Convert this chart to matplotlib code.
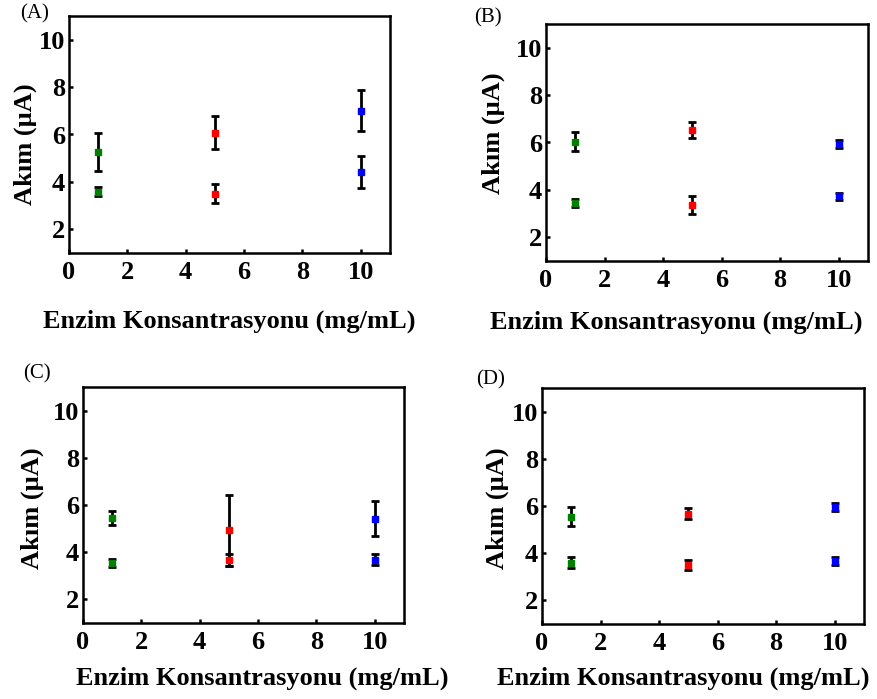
import matplotlib
matplotlib.use("Agg")
import matplotlib.pyplot as plt

plt.rcParams["font.family"] = ["Liberation Serif", "DejaVu Serif"]

W, H = 878, 699

conc = [1, 5, 10]
point_colors = ["#008000", "#ff0000", "#0000ff"]

A_high = [5.25, 6.08, 7.01]
A_high_err = [0.80, 0.70, 0.86]
A_low = [3.59, 3.51, 4.41]
A_low_err = [0.18, 0.42, 0.68]

B_high = [6.03, 6.52, 5.93]
B_high_err = [0.40, 0.34, 0.17]
B_low = [3.45, 3.36, 3.73]
B_low_err = [0.18, 0.37, 0.14]

C_high = [5.46, 4.93, 5.42]
C_high_err = [0.30, 1.50, 0.73]
C_low = [3.55, 3.66, 3.69]
C_low_err = [0.18, 0.25, 0.22]

D_high = [5.54, 5.68, 5.96]
D_high_err = [0.40, 0.25, 0.18]
D_low = [3.60, 3.50, 3.68]
D_low_err = [0.22, 0.22, 0.16]

x_ticks = [0, 2, 4, 6, 8, 10]
y_ticks = [2, 4, 6, 8, 10]
xlabel = "Enzim Konsantrasyonu (mg/mL)"
ylabel = "Akım (µA)"

# panel: label, data, axes box in px (left, top, right, bottom),
# panel-letter position px, ylabel coords, xlabel coords
PANELS = [
    ("(A)", (A_high, A_high_err, A_low, A_low_err), (69, 16, 390, 253),
     (35, 14), (-0.137, 0.46), (0.50, -0.29)),
    ("(B)", (B_high, B_high_err, B_low, B_low_err), (546, 24, 868, 261),
     (488, 18), (-0.165, 0.54), (0.404, -0.257)),
    ("(C)", (C_high, C_high_err, C_low, C_low_err), (83, 387, 404, 623),
     (37, 374), (-0.159, 0.487), (0.558, -0.233)),
    ("(D)", (D_high, D_high_err, D_low, D_low_err), (542, 388, 864, 624),
     (491, 380), (-0.14, 0.49), (0.438, -0.229)),
]

fig = plt.figure(figsize=(W / 100, H / 100), dpi=100)

for letter, (hi, hi_err, lo, lo_err), box, lpos, ycoords, xcoords in PANELS:
    l, t, r, b = box
    ax = fig.add_axes([l / W, 1 - b / H, (r - l) / W, (b - t) / H])

    for vals, errs in ((hi, hi_err), (lo, lo_err)):
        for xv, yv, ev, c in zip(conc, vals, errs, point_colors):
            ax.errorbar(xv, yv, yerr=ev, fmt="s", color=c, ms=5,
                        ecolor="black", elinewidth=2, capsize=2.7,
                        capthick=2, zorder=3)

    ax.set_xlim(0, 11)
    ax.set_ylim(1, 11)
    ax.set_xticks(x_ticks)
    ax.set_yticks(y_ticks)
    ax.tick_params(direction="in", length=3, width=1.8, labelsize=19)
    ax.tick_params(axis="x", pad=6)
    ax.tick_params(axis="y", pad=3)
    for lab in ax.get_xticklabels() + ax.get_yticklabels():
        lab.set_fontweight("bold")
    for sp in ax.spines.values():
        sp.set_linewidth(1.8)

    ax.set_xlabel(xlabel, fontsize=19, fontweight="bold", va="center")
    ax.set_ylabel(ylabel, fontsize=19, fontweight="bold", va="center")
    ax.xaxis.set_label_coords(*xcoords)
    ax.yaxis.set_label_coords(*ycoords)

    fig.text(lpos[0] / W, 1 - lpos[1] / H, letter, fontsize=15,
             ha="center", va="center")

fig.savefig("out.png", dpi=100)
